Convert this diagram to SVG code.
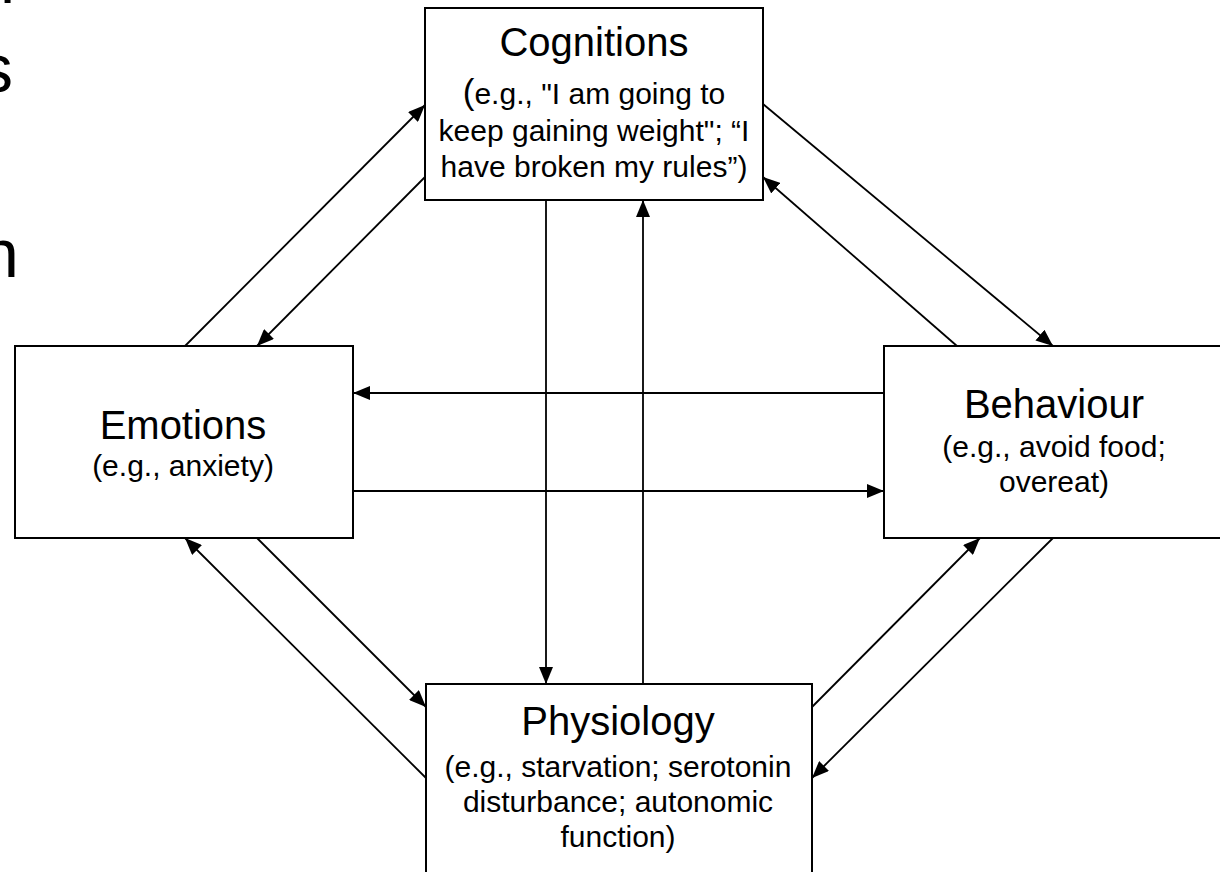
<svg xmlns="http://www.w3.org/2000/svg" width="1220" height="872" viewBox="0 0 1220 872">
<style>
.box{fill:#fff;stroke:#000;stroke-width:2}
.ln{stroke:#000;stroke-width:1.8;fill:none;marker-end:url(#ah)}
.t{font-family:"Liberation Sans",Arial,sans-serif;fill:#000;text-anchor:middle}
.h{font-size:40px}
.s{font-size:30px}
.big{font-family:"Liberation Sans",Arial,sans-serif;font-size:68px;fill:#000}
</style>
<defs>
<marker id="ah" markerUnits="userSpaceOnUse" markerWidth="18" markerHeight="14" refX="17" refY="7" orient="auto">
<path d="M0,0 L17,7 L0,14 Z" fill="#000"/>
</marker>
</defs>
<rect width="1220" height="872" fill="#fff"/>
<g id="slide-fragments">
<text class="big" x="0" y="3">l</text>
<text class="big" x="-21" y="92">s</text>
<text class="big" x="-19" y="277">n</text>
</g>
<g id="connectors">
<line class="ln" x1="185" y1="346" x2="425" y2="105"/>
<line class="ln" x1="425" y1="177" x2="257" y2="346"/>
<line class="ln" x1="763" y1="104" x2="1053" y2="346"/>
<line class="ln" x1="957" y1="346" x2="763" y2="177"/>
<line class="ln" x1="257" y1="538" x2="426" y2="707"/>
<line class="ln" x1="426" y1="778" x2="185" y2="538"/>
<line class="ln" x1="812" y1="707" x2="980" y2="538"/>
<line class="ln" x1="1053" y1="538" x2="812" y2="778"/>
<line class="ln" x1="884" y1="393" x2="353" y2="393"/>
<line class="ln" x1="353" y1="491" x2="884" y2="491"/>
<line class="ln" x1="546" y1="200" x2="546" y2="684"/>
<line class="ln" x1="643" y1="684" x2="643" y2="200"/>
</g>
<g id="cognitions">
<rect class="box" x="425" y="8" width="338" height="192"/>
<text class="t h" x="594" y="56">Cognitions</text>
<text class="t s" x="594" y="104"><tspan font-size="35">(</tspan>e.g., "I am going to</text>
<text class="t s" x="594" y="141">keep gaining weight"; “I</text>
<text class="t s" x="594" y="177">have broken my rules”)</text>
</g>
<g id="emotions">
<rect class="box" x="15" y="346" width="338" height="192"/>
<text class="t h" x="183" y="439">Emotions</text>
<text class="t s" x="183" y="476">(e.g., anxiety)</text>
</g>
<g id="behaviour">
<rect class="box" x="884" y="346" width="340" height="192"/>
<text class="t h" x="1054" y="418">Behaviour</text>
<text class="t s" x="1054" y="457">(e.g., avoid food;</text>
<text class="t s" x="1054" y="492">overeat)</text>
</g>
<g id="physiology">
<rect class="box" x="426" y="684" width="386" height="200"/>
<text class="t h" x="618" y="735">Physiology</text>
<text class="t s" x="618" y="777">(e.g., starvation; serotonin</text>
<text class="t s" x="618" y="812">disturbance; autonomic</text>
<text class="t s" x="618" y="847">function)</text>
</g>
</svg>
